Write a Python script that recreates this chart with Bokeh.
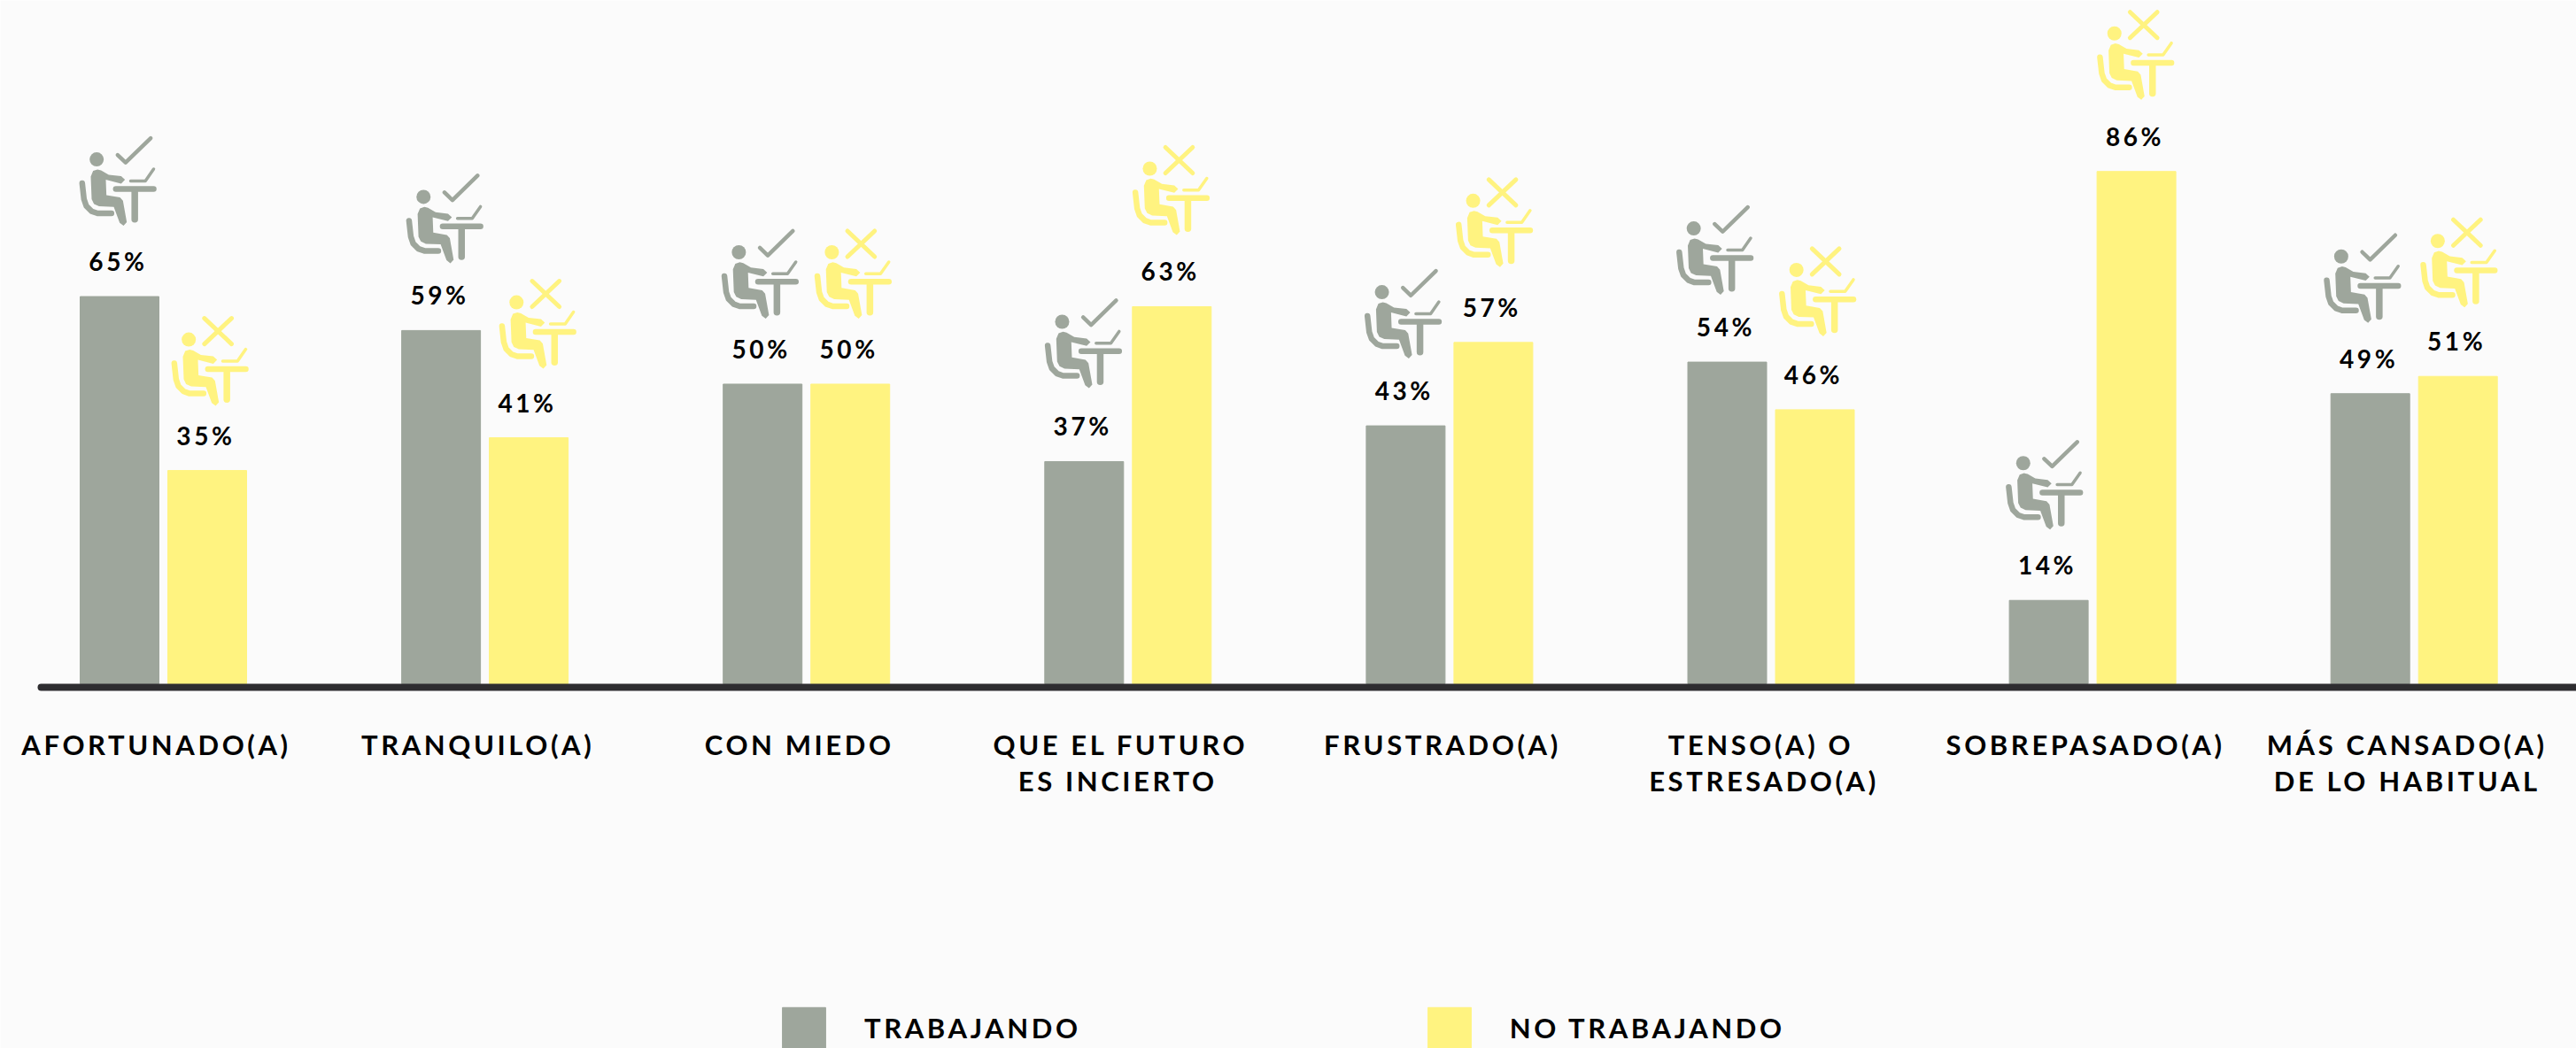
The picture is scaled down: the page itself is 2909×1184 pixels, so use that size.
from bokeh.plotting import figure
from bokeh.models import Range1d, FixedTicker, Legend, LegendItem, ColumnDataSource
from bokeh.core.properties import value
from bokeh.embed import file_html
from bokeh.resources import INLINE

categories = ["AFORTUNADO(A)", "TRANQUILO(A)", "CON MIEDO", "QUE EL FUTURO\nES INCIERTO", "FRUSTRADO(A)",
              "TENSO(A) O\nESTRESADO(A)", "SOBREPASADO(A)", "MÁS CANSADO(A)\nDE LO HABITUAL"]
trabajando = [65, 59, 50, 37, 43, 54, 14, 49]
no_trabajando = [35, 41, 50, 63, 57, 46, 86, 51]
# bar heights as measured on the picture (the labels above are rounded and drawn slightly differently)
trabajando_h = [65, 59.3, 50.3, 37.3, 43.3, 54, 14, 48.7]
no_trabajando_h = [35.8, 41.3, 50.3, 63.3, 57.3, 46, 86, 51.6]
series_names = ["TRABAJANDO", "NO TRABAJANDO"]

GREY, YELLOW, INK, BG = "#9ea69c", "#fff380", "#000000", "#fbfbfb"
FONT = "Lato"
W, H = 2909, 1184
STEP = 363.1          # px per category
PXY = 6.73            # px per percentage point
FIRST = 184.0         # px of first category centre
ZERO_Y = 772          # px of the bars' base
HALF = 49.5
BAR_W = 89 / STEP
SPACING = 3.6

# horizontal nudge of each icon relative to its bar, and its height above the bar top (px)
icon_dx = [[-1, 5, -2, 0, -2, -13, -4, -8], [4, 11, 4, 0, 2, 4, 0, 2]]
icon_gap = [[80, 76, 74, 83, 76, 76, 80, 80], [73, 78, 74, 81, 85, 83, 81, 78]]

p = figure(width=W, height=H, output_backend="svg", toolbar_location=None,
           x_range=Range1d(-FIRST / STEP, (W - FIRST) / STEP),
           y_range=Range1d(-(H - ZERO_Y) / PXY, ZERO_Y / PXY),
           background_fill_color=BG, border_fill_color=BG, outline_line_color=None,
           min_border_left=0, min_border_right=0, min_border_top=0, min_border_bottom=0)
p.styles = {"position": "absolute", "left": "0", "top": "0", "letter-spacing": f"{SPACING}px"}
p.grid.visible = False
p.yaxis.visible = False

xs = list(range(len(categories)))
off = HALF / STEP
src1 = ColumnDataSource(dict(x=[i - off for i in xs], top=trabajando_h, t=[f"{v}%" for v in trabajando]))
src2 = ColumnDataSource(dict(x=[i + off for i in xs], top=no_trabajando_h, t=[f"{v}%" for v in no_trabajando]))
r1 = p.vbar(x="x", top="top", bottom=0, width=BAR_W, color=GREY, source=src1)
r2 = p.vbar(x="x", top="top", bottom=0, width=BAR_W, color=YELLOW, source=src2)
for s in (src1, src2):
    p.text(x="x", y="top", text="t", source=s, x_offset=-7, y_offset=-23, text_align="center", text_baseline="bottom",
           text_color=INK, text_font=value(FONT), text_font_style="bold", text_font_size="28px")


# icon template, px relative to icon left / bottom, from a 3x crop
def z(pts):
    return [((a - 88) / 3, (372 - b) / 3) for a, b in pts]


body = z([(150, 181), (135, 186), (127, 205), (130, 282), (138, 298), (155, 306), (205, 308), (225, 362), (238, 372),
          (249, 360), (236, 287), (226, 276), (180, 268), (178, 216), (230, 229), (243, 216), (230, 204), (188, 199),
          (162, 184)])
chair = z([(98, 228), (104, 282), (112, 305), (130, 323), (150, 330), (197, 330)])
table = z([(212, 247), (340, 247)])
leg = z([(276, 252), (276, 350)])
laptop = z([(262, 220), (312, 220), (340, 180)])
check = z([(218, 132), (245, 158), (330, 75)])
cross1 = z([(200, 75), (292, 162)])
cross2 = z([(292, 75), (200, 162)])
head = z([(147, 147)])[0]


def stroke(path, ox, oy, color, width):
    p.line([ox + u / STEP for u, _ in path], [oy + v / PXY for _, v in path], line_color=color, line_width=width,
           line_cap="round", line_join="round")


for si, (vals, color) in enumerate(((trabajando_h, GREY), (no_trabajando_h, YELLOW))):
    for i, v in enumerate(vals):
        bar_left = i + (-off if si == 0 else off) - BAR_W / 2
        ox = bar_left + icon_dx[si][i] / STEP
        oy = v + icon_gap[si][i] / PXY
        p.patch([ox + u / STEP for u, _ in body], [oy + w / PXY for _, w in body], color=color, line_width=0)
        p.scatter([ox + head[0] / STEP], [oy + head[1] / PXY], size=16, color=color, line_width=0)
        stroke(chair, ox, oy, color, 6.5)
        stroke(table, ox, oy, color, 6.5)
        stroke(leg, ox, oy, color, 7.5)
        stroke(laptop, ox, oy, color, 3.5)
        if si == 0:
            stroke(check, ox, oy, color, 4.5)
        else:
            stroke(cross1, ox, oy, color, 5)
            stroke(cross2, ox, oy, color, 5)

# letter-spacing widens labels rightward of their measured width: centre them again
ticks = [i - (8 + max(len(s) for s in c.split("\n")) * SPACING / 2) / STEP for i, c in enumerate(categories)]
ax = p.xaxis[0]
ax.fixed_location = -4 / PXY
ax.ticker = FixedTicker(ticks=ticks)
ax.major_label_overrides = dict(zip(ticks, categories))
ax.bounds = ((46 - FIRST) / STEP, (W - FIRST) / STEP)
ax.axis_line_color = "#2e2d30"
ax.axis_line_width = 8
ax.axis_line_cap = "round"
ax.major_tick_line_color = None
ax.minor_tick_line_color = None
ax.major_label_standoff = 39
ax.major_label_text_font = FONT
ax.major_label_text_font_style = "bold"
ax.major_label_text_font_size = "31px"
ax.major_label_text_color = INK
ax.major_label_text_line_height = 1.09
ax.major_label_orientation = "horizontal"

legend = Legend(items=[LegendItem(label=series_names[0], renderers=[r1]),
                       LegendItem(label=series_names[1], renderers=[r2])],
                orientation="horizontal", location=(877, -6), padding=0, margin=0, spacing=385,
                glyph_width=61, glyph_height=58, label_standoff=38, background_fill_alpha=0, border_line_color=None,
                label_text_font=FONT, label_text_font_style="bold", label_text_font_size="31px", label_text_color=INK,
                label_height=58)
p.add_layout(legend, "center")

open("out.html", "w").write(file_html(p, INLINE))
